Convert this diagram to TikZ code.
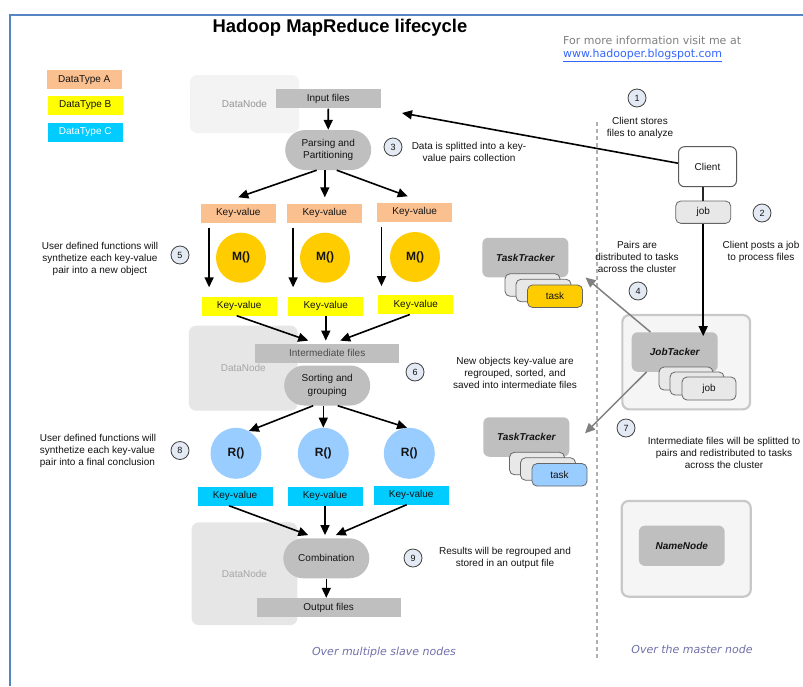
\documentclass[tikz,border=0pt]{standalone}
\usepackage{fontspec}
\setmainfont{Liberation Sans}
\newfontfamily\dejavu{DejaVu Sans}
\usetikzlibrary{arrows.meta,calc}

\definecolor{frameblue}{RGB}{85,133,197}
\definecolor{peach}{RGB}{250,192,144}
\definecolor{ylw}{RGB}{255,255,0}
\definecolor{cyn}{RGB}{0,204,255}
\definecolor{gold}{RGB}{255,204,0}
\definecolor{skyblue}{RGB}{153,204,255}
\definecolor{boxgray}{RGB}{191,191,191}
\definecolor{dnlight}{RGB}{243,243,243}
\definecolor{dngray}{RGB}{230,230,230}
\definecolor{cardgray}{RGB}{232,232,232}
\definecolor{numfill}{RGB}{228,234,244}
\definecolor{txt}{RGB}{20,20,20}
\definecolor{linkblue}{RGB}{51,102,255}
\definecolor{infogray}{RGB}{128,128,128}
\definecolor{notepurple}{RGB}{112,112,170}
\definecolor{dashgray}{RGB}{176,176,176}
\definecolor{arrowgray}{RGB}{128,128,128}
\definecolor{mastbord}{RGB}{200,200,200}
\definecolor{mastfill}{RGB}{245,245,245}

\begin{document}
\begin{tikzpicture}[x=1pt,y=-1pt,
  every node/.style={font=\fontsize{10}{12.3}\selectfont, text=txt, inner sep=0pt},
  legend/.style={rectangle, minimum width=75pt, minimum height=19pt},
  kv/.style={rectangle, minimum width=75pt, minimum height=19pt},
  filebar/.style={rectangle, fill=boxgray, minimum height=19pt},
  pill/.style={rectangle, rounded corners=20pt, fill=boxgray, minimum width=86pt, minimum height=40pt, align=center},
  datanode/.style={rectangle, rounded corners=7pt},
  fn/.style={circle, minimum size=50pt, font=\fontsize{12}{14}\selectfont\bfseries},
  num/.style={circle, draw=black!75, fill=numfill, line width=0.8pt, minimum size=18pt, font=\fontsize{9}{10}\selectfont},
  note/.style={align=center},
  arr/.style={line width=1.6pt, -{Triangle[length=10pt,width=9pt]}},
  garr/.style={draw=arrowgray, line width=1.5pt, -{Triangle[length=10pt,width=9pt]}},
  tracker/.style={rectangle, rounded corners=6pt, fill=boxgray, minimum width=86pt, minimum height=39.5pt, font=\fontsize{10}{12}\selectfont\bfseries\itshape},
  card/.style={rectangle, rounded corners=5pt, draw=black!60, line width=0.8pt, fill=cardgray, minimum width=55pt, minimum height=22.5pt},
  masterbox/.style={rectangle, rounded corners=7pt, draw=mastbord, fill=mastfill, line width=2.2pt},
  caption/.style={font=\dejavu\itshape\fontsize{11}{13}\selectfont, text=notepurple}
]
\useasboundingbox (0,0) rectangle (803,686);
\fill[white] (0,0) rectangle (803,686);

% page frame
\draw[frameblue, line width=2pt] (10,686) -- (10,15) -- (803,15);

% heading and link
\node[font=\fontsize{18.4}{22}\selectfont\bfseries, text=black] (title) at (340,28) {Hadoop MapReduce lifecycle};
\node[font=\dejavu\fontsize{11}{13}\selectfont, text=infogray, anchor=west] (info) at (563,40) {For more information visit me at};
\node[font=\dejavu\fontsize{11}{13}\selectfont, text=linkblue, anchor=west] (url) at (563,55) {\underline{www.hadooper.blogspot.com}};

% legend
\node[legend, fill=peach] (legA) at (84.2,79.7) {DataType A};
\node[legend, fill=ylw] (legB) at (85.2,105.5) {DataType B};
\node[legend, fill=cyn, text=white] (legC) at (85.2,132) {DataType C};

% data nodes
\node[datanode, fill=dnlight, minimum width=109pt, minimum height=58pt, text=black!42] (dn1) at (244.5,104) {DataNode};
\node[datanode, fill=dngray, minimum width=108.7pt, minimum height=85pt, text=black!35] (dn2) at (243.3,368.2) {DataNode};
\node[datanode, fill=dngray, minimum width=105.6pt, minimum height=102.7pt, text=black!35] (dn3) at (244.5,573.7) {DataNode};

% file bars
\node[filebar, minimum width=105.3pt] (inp) at (328.3,98.8) {Input files};
\node[filebar, minimum width=144.3pt, text=black!70] (inter) at (327.2,353.3) {Intermediate files};
\node[filebar, minimum width=144pt] (out) at (328.7,607.5) {Output files};

% processing stages
\node[pill] (parse) at (328.2,150) {Parsing and\\Partitioning};
\node[pill] (sort) at (327.2,385.5) {Sorting and\\grouping};
\node[pill] (comb) at (326.3,558.3) {Combination};

% key-value pairs and functions
\node[kv, fill=peach] (kva1) at (238.3,213) {Key-value};
\node[kv, fill=peach] (kva2) at (324.8,213) {Key-value};
\node[kv, fill=peach] (kva3) at (414.7,212) {Key-value};

\node[fn, fill=gold] (m1) at (241,257.7) {M()};
\node[fn, fill=gold] (m2) at (325,257.7) {M()};
\node[fn, fill=gold] (m3) at (415,257) {M()};

\node[kv, fill=ylw] (kvb1) at (239.2,306) {Key-value};
\node[kv, fill=ylw] (kvb2) at (325.8,306) {Key-value};
\node[kv, fill=ylw] (kvb3) at (415.8,304.8) {Key-value};

\node[fn, fill=skyblue, minimum size=51pt] (r1) at (236,453.3) {R()};
\node[fn, fill=skyblue, minimum size=51pt] (r2) at (323.3,453.3) {R()};
\node[fn, fill=skyblue, minimum size=51pt] (r3) at (409.3,453.3) {R()};

\node[kv, fill=cyn] (kvc1) at (235,496) {Key-value};
\node[kv, fill=cyn] (kvc2) at (325,496) {Key-value};
\node[kv, fill=cyn] (kvc3) at (411.2,495) {Key-value};

% separator between slave and master side
\draw[dashgray, line width=2pt, dash pattern=on 4pt off 3pt] (596.5,122) -- (596.5,658);

% master side
\node[rectangle, rounded corners=6pt, draw=black!65, fill=white, line width=1pt, minimum width=58pt, minimum height=40pt] (client) at (707.5,166.7) {Client};
\node[card, minimum height=22.3pt] (job) at (703.2,212.2) {job};

\node[masterbox, minimum width=127.7pt, minimum height=94.3pt] (master) at (686.2,362.2) {};
\node[tracker] (jt) at (674.7,352) {JobTacker};
\node[card, minimum width=54pt, minimum height=23pt] (jc1) at (686,378.5) {};
\node[card, minimum width=54pt, minimum height=23pt] (jc2) at (697,383.5) {};
\node[card, minimum width=54pt, minimum height=23pt] (jc3) at (709,388.5) {job};

\node[masterbox, minimum width=129pt, minimum height=95.7pt] (nnbox) at (686.2,548.8) {};
\node[tracker, minimum width=85.7pt, minimum height=40.3pt] (nn) at (681.8,545.8) {NameNode};

% task trackers
\node[tracker] (tt1) at (525.3,257.5) {TaskTracker};
\node[card] (tc1) at (532.5,285) {};
\node[card] (tc2) at (543.5,290.5) {};
\node[card, fill=gold] (tc3) at (555,296.2) {task};

\node[tracker] (tt2) at (526.3,437) {TaskTracker};
\node[card] (td1) at (537,463.5) {};
\node[card] (td2) at (548,469) {};
\node[card, fill=skyblue] (td3) at (559.5,474.8) {task};

% step numbers
\node[num] (n1) at (637,98) {1};
\node[num] (n2) at (762,213) {2};
\node[num] (n3) at (393,147) {3};
\node[num] (n4) at (638,291) {4};
\node[num] (n5) at (180,255) {5};
\node[num] (n6) at (415,372) {6};
\node[num] (n7) at (626,428) {7};
\node[num] (n8) at (180,450.5) {8};
\node[num] (n9) at (413,558) {9};

% step descriptions
\node[note] (t1) at (640,128) {Client stores\\files to analyze};
\node[note] (t2) at (761,252) {Client posts a job\\to process files};
\node[note] (t3) at (469,153) {Data is splitted into a key-\\value pairs collection};
\node[note] (t4) at (637,257) {Pairs are\\distributed to tasks\\across the cluster};
\node[note] (t5) at (100,259) {User defined functions will\\synthetize each key-value\\pair into a new object};
\node[note] (t6) at (515,373) {New objects key-value are\\regrouped, sorted, and\\saved into intermediate files};
\node[note] (t7) at (724,453) {Intermediate files will be splitted to\\pairs and redistributed to tasks\\across the cluster};
\node[note, align=left] (t8) at (98,451) {User defined functions will\\synthetize each key-value\\pair into a final conclusion};
\node[note] (t9) at (505,558) {Results will be regrouped and\\stored in an output file};

% region captions
\node[caption] (cap1) at (384,652) {Over multiple slave nodes};
\node[caption] (cap2) at (692,649) {Over the master node};

% data flow on the slave side
\draw[arr] (inp.south) -- (parse.north);
\draw[arr] ([xshift=-11.5pt]parse.south) -- ([yshift=6pt]kva1.north);
\draw[arr] (kva2.north |- parse.south) -- ([yshift=6pt]kva2.north);
\draw[arr] ([xshift=8.5pt]parse.south) -- ([xshift=-7pt,yshift=6pt]kva3.north);

\draw[arr, shorten <=5pt, shorten >=9pt] ([xshift=8.5pt]kva1.south west) -- ([xshift=8.5pt]kva1.south west |- kvb1.north);
\draw[arr, shorten <=5pt, shorten >=9pt] ([xshift=6pt]kva2.south west) -- ([xshift=6pt]kva2.south west |- kvb2.north);
\draw[arr, shorten <=5pt, shorten >=9pt] ([xshift=4.5pt]kva3.south west) -- ([xshift=4.5pt]kva3.south west |- kvb3.north);

\draw[arr] ([xshift=-2.5pt]kvb1.south) -- ([xshift=-19pt,yshift=3pt]inter.north);
\draw[arr] (kvb2.south) -- ([yshift=3pt]kvb2.south |- inter.north);
\draw[arr] ([xshift=-6pt]kvb3.south) -- ([xshift=13pt,yshift=3pt]inter.north);

\draw[arr] ([xshift=-14pt]sort.south) -- (r1.60);
\draw[arr] (r2.north |- sort.south) -- (r2.north);
\draw[arr] ([xshift=10.5pt]sort.south) -- (r3.95);

\draw[arr] ([xshift=-6pt]kvc1.south) -- ([xshift=-18pt,yshift=3pt]comb.north);
\draw[arr] (kvc2.south) -- ([yshift=3pt]kvc2.south |- comb.north);
\draw[arr] ([xshift=-4.5pt]kvc3.south) -- ([xshift=9.5pt,yshift=3pt]comb.north);

\draw[arr] (comb.south) -- (comb.south |- out.north);

% client and master interactions
\coordinate (inptip) at (402,113);
\draw[arr] ([yshift=3.5pt]client.west) -- (inptip);
\draw[line width=1.6pt, black!85] (job.north) -- (job.north |- client.south);
\draw[arr] (job.south) -- ([yshift=-4pt]job.south |- jt.north);

\coordinate (tt1tip) at (585.5,277.5);
\coordinate (tt2tip) at (585,433.3);
\draw[garr] ([xshift=19pt]jt.north west) -- (tt1tip);
\draw[garr] ([xshift=15pt]jt.south west) -- (tt2tip);
\end{tikzpicture}
\end{document}
